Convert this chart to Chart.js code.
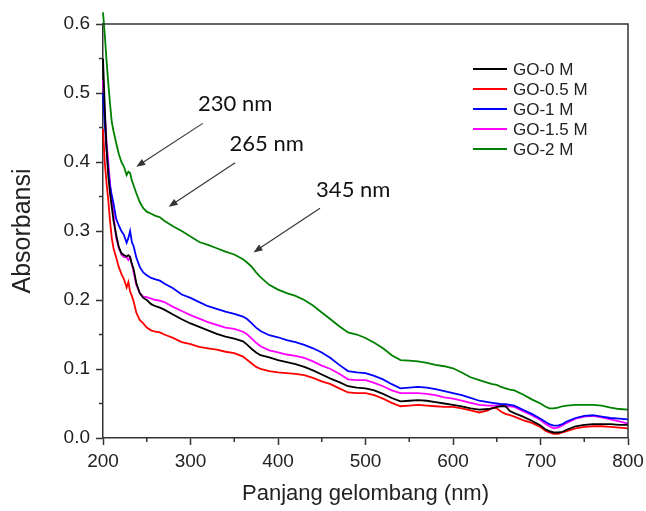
<!DOCTYPE html>
<html>
<head>
<meta charset="utf-8">
<script src="https://cdn.jsdelivr.net/npm/chart.js@4.4.1/dist/chart.umd.min.js"></script>
<style>
  html, body { margin: 0; padding: 0; background: #fff; }
  #wrap { width: 646px; height: 511px; }
</style>
</head>
<body>
<div id="wrap"><canvas id="uvChart"></canvas></div>
<script>
// UV-Vis absorbance spectra, wavelength in nm
const wavelength = [
  200, 202, 204, 206, 208, 210, 212, 215, 218, 221, 224, 227, 229, 231, 233, 235, 238, 242, 246, 250,
  255, 260, 265, 270, 280, 290, 300, 310, 320, 330, 340, 350, 360, 365, 370, 375, 380, 390, 400, 410,
  420, 430, 440, 450, 460, 470, 480, 490, 500, 510, 520, 530, 540, 550, 560, 570, 580, 590, 600, 610,
  620, 630, 640, 645, 650, 655, 660, 665, 670, 680, 690, 700, 705, 710, 715, 720, 725, 730, 740, 750,
  760, 770, 780, 790, 800
];

const go0 = [
  0.550, 0.480, 0.420, 0.380, 0.355, 0.335, 0.315, 0.295, 0.277, 0.268, 0.265, 0.263, 0.265, 0.262, 0.252, 0.245, 0.225, 0.210, 0.203, 0.200,
  0.194, 0.191, 0.189, 0.186, 0.179, 0.172, 0.166, 0.161, 0.156, 0.151, 0.147, 0.144, 0.140, 0.135, 0.129, 0.124, 0.120, 0.117, 0.113, 0.110,
  0.107, 0.103, 0.098, 0.092, 0.086, 0.081, 0.075, 0.073, 0.072, 0.069, 0.064, 0.058, 0.053, 0.054, 0.055, 0.054, 0.052, 0.050, 0.048, 0.046,
  0.043, 0.041, 0.042, 0.043, 0.045, 0.046, 0.046, 0.039, 0.036, 0.031, 0.025, 0.018, 0.013, 0.010, 0.008, 0.008, 0.009, 0.012, 0.017, 0.019,
  0.020, 0.020, 0.020, 0.019, 0.019
];

const go05 = [
  0.448, 0.400, 0.370, 0.345, 0.315, 0.290, 0.275, 0.262, 0.248, 0.238, 0.230, 0.218, 0.226, 0.212, 0.206, 0.198, 0.182, 0.171, 0.166, 0.160,
  0.156, 0.154, 0.153, 0.150, 0.145, 0.139, 0.136, 0.132, 0.130, 0.128, 0.125, 0.123, 0.118, 0.113, 0.108, 0.103, 0.100, 0.097, 0.095, 0.094,
  0.093, 0.091, 0.087, 0.082, 0.078, 0.072, 0.066, 0.065, 0.065, 0.062, 0.057, 0.051, 0.046, 0.047, 0.048, 0.047, 0.046, 0.045, 0.045, 0.043,
  0.040, 0.037, 0.040, 0.044, 0.043, 0.038, 0.035, 0.033, 0.031, 0.026, 0.022, 0.016, 0.011, 0.008, 0.006, 0.006, 0.008, 0.010, 0.014, 0.016,
  0.017, 0.017, 0.016, 0.015, 0.014
];

const go1 = [
  0.500, 0.455, 0.420, 0.390, 0.365, 0.352, 0.340, 0.318, 0.308, 0.300, 0.294, 0.283, 0.290, 0.300, 0.284, 0.278, 0.262, 0.248, 0.240, 0.236,
  0.232, 0.230, 0.228, 0.224, 0.217, 0.208, 0.203, 0.197, 0.191, 0.187, 0.183, 0.180, 0.176, 0.172, 0.166, 0.160, 0.155, 0.149, 0.146, 0.142,
  0.139, 0.135, 0.130, 0.124, 0.116, 0.106, 0.097, 0.095, 0.094, 0.090, 0.085, 0.078, 0.072, 0.073, 0.074, 0.073, 0.071, 0.068, 0.065, 0.062,
  0.058, 0.054, 0.052, 0.051, 0.050, 0.049, 0.049, 0.048, 0.047, 0.041, 0.035, 0.028, 0.024, 0.020, 0.018, 0.018, 0.020, 0.024, 0.029, 0.032,
  0.033, 0.031, 0.029, 0.028, 0.027
];

const go15 = [
  0.519, 0.470, 0.430, 0.400, 0.370, 0.345, 0.325, 0.290, 0.276, 0.266, 0.262, 0.262, 0.258, 0.262, 0.252, 0.240, 0.222, 0.210, 0.205, 0.204,
  0.202, 0.200, 0.199, 0.197, 0.190, 0.184, 0.178, 0.173, 0.168, 0.164, 0.160, 0.158, 0.154, 0.150, 0.144, 0.138, 0.133, 0.127, 0.124, 0.121,
  0.119, 0.116, 0.111, 0.105, 0.100, 0.093, 0.085, 0.084, 0.084, 0.080, 0.075, 0.069, 0.065, 0.065, 0.065, 0.064, 0.062, 0.059, 0.057, 0.054,
  0.051, 0.048, 0.047, 0.047, 0.047, 0.047, 0.046, 0.046, 0.045, 0.039, 0.033, 0.026, 0.021, 0.017, 0.014, 0.015, 0.018, 0.022, 0.028, 0.031,
  0.032, 0.030, 0.027, 0.024, 0.021
];

const go2 = [
  0.617, 0.585, 0.548, 0.515, 0.485, 0.458, 0.445, 0.428, 0.412, 0.400, 0.393, 0.381, 0.386, 0.384, 0.373, 0.366, 0.355, 0.342, 0.333, 0.328,
  0.325, 0.322, 0.320, 0.315, 0.307, 0.300, 0.292, 0.284, 0.280, 0.275, 0.270, 0.266, 0.259, 0.254, 0.248, 0.240, 0.233, 0.222, 0.215, 0.210,
  0.206, 0.200, 0.192, 0.182, 0.172, 0.162, 0.153, 0.150, 0.145, 0.138, 0.130, 0.120, 0.113, 0.112, 0.111, 0.109, 0.106, 0.104, 0.101, 0.095,
  0.088, 0.084, 0.080, 0.078, 0.077, 0.074, 0.072, 0.070, 0.069, 0.063, 0.056, 0.050, 0.046, 0.043, 0.043, 0.044, 0.046, 0.047, 0.048, 0.048,
  0.048, 0.047, 0.044, 0.042, 0.041
];

const seriesLabels = ["GO-0 M", "GO-0.5 M", "GO-1 M", "GO-1.5 M", "GO-2 M"];
const seriesColors = ["#000000", "#ff0000", "#0000ff", "#ff00ff", "#008000"];
const seriesValues = [go0, go05, go1, go15, go2];

// peak callouts: label position and arrow, in data units (nm, absorbance)
const peakNotes = [
  { text: "230 nm", tx: 351, ty: 0.484, x0: 314, y0: 0.456, x1: 238, y1: 0.393 },
  { text: "265 nm", tx: 387, ty: 0.426, x0: 351, y0: 0.399, x1: 275, y1: 0.335 },
  { text: "345 nm", tx: 486, ty: 0.359, x0: 448, y0: 0.333, x1: 372, y1: 0.269 },
];

const axisColor = "#333333";
const tickFont = { family: "'Liberation Sans', Arial, sans-serif", size: 19 };

// box frame + minor ticks on the bottom and left axes
const framePlugin = {
  id: "frame",
  afterDraw(chart) {
    const { ctx, chartArea: { top, bottom, left, right }, scales: { x, y } } = chart;
    ctx.save();
    ctx.strokeStyle = axisColor;
    ctx.lineWidth = 1.5;
    ctx.beginPath();
    ctx.moveTo(left, top);
    ctx.lineTo(right, top);
    ctx.lineTo(right, bottom);
    ctx.stroke();

    ctx.beginPath();
    for (let v = 250; v < 800; v += 100) {
      const px = x.getPixelForValue(v);
      ctx.moveTo(px, bottom);
      ctx.lineTo(px, bottom + 4);
    }
    for (let v = 0.05; v < 0.6; v += 0.1) {
      const py = y.getPixelForValue(v);
      ctx.moveTo(left, py);
      ctx.lineTo(left - 4, py);
    }
    ctx.stroke();
    ctx.restore();
  },
};

// legend drawn inside the plot, upper right
const insideLegend = {
  id: "insideLegend",
  afterDraw(chart) {
    const { ctx, chartArea: { right, top } } = chart;
    const x0 = right - 155;
    const y0 = top + 45;
    ctx.save();
    ctx.font = "17px 'Liberation Sans', Arial, sans-serif";
    ctx.textBaseline = "middle";
    ctx.fillStyle = "#222";
    chart.data.datasets.forEach((ds, i) => {
      const yy = y0 + i * 20;
      ctx.strokeStyle = ds.borderColor;
      ctx.lineWidth = 2;
      ctx.beginPath();
      ctx.moveTo(x0, yy);
      ctx.lineTo(x0 + 34, yy);
      ctx.stroke();
      ctx.fillText(ds.label, x0 + 40, yy + 1);
    });
    ctx.restore();
  },
};

// callout labels with arrows
const peakArrows = {
  id: "peakArrows",
  afterDraw(chart) {
    const { ctx, scales: { x, y } } = chart;
    ctx.save();
    ctx.font = "22px Lato, 'Open Sans', sans-serif";
    ctx.textAlign = "center";
    ctx.textBaseline = "middle";
    peakNotes.forEach((n) => {
      ctx.fillStyle = "#111";
      ctx.fillText(n.text, x.getPixelForValue(n.tx), y.getPixelForValue(n.ty));

      const ax = x.getPixelForValue(n.x0), ay = y.getPixelForValue(n.y0);
      const bx = x.getPixelForValue(n.x1), by = y.getPixelForValue(n.y1);
      const ang = Math.atan2(by - ay, bx - ax);
      ctx.strokeStyle = "#333";
      ctx.lineWidth = 1.1;
      ctx.beginPath();
      ctx.moveTo(ax, ay);
      ctx.lineTo(bx - 6 * Math.cos(ang), by - 6 * Math.sin(ang));
      ctx.stroke();
      ctx.fillStyle = "#333";
      ctx.beginPath();
      ctx.moveTo(bx, by);
      ctx.lineTo(bx - 9 * Math.cos(ang) + 3.5 * Math.sin(ang), by - 9 * Math.sin(ang) - 3.5 * Math.cos(ang));
      ctx.lineTo(bx - 9 * Math.cos(ang) - 3.5 * Math.sin(ang), by - 9 * Math.sin(ang) + 3.5 * Math.cos(ang));
      ctx.closePath();
      ctx.fill();
    });
    ctx.restore();
  },
};

const datasets = seriesLabels.map((label, i) => ({
  label: label,
  data: wavelength.map((w, k) => ({ x: w, y: seriesValues[i][k] })),
  borderColor: seriesColors[i],
  borderWidth: 1.8,
  pointRadius: 0,
  tension: 0,
  fill: false,
  clip: false,
}));

new Chart(document.getElementById("uvChart"), {
  type: "line",
  data: { datasets: datasets },
  options: {
    responsive: true,
    maintainAspectRatio: false,
    animation: false,
    layout: { padding: { left: 0, right: 18, top: 24, bottom: 0 } },
    scales: {
      x: {
        type: "linear",
        min: 200,
        max: 800,
        afterFit: (scale) => {
          scale.height = 73;
          scale.paddingLeft = 0;
          scale.paddingRight = 0;
        },
        ticks: { stepSize: 100, font: tickFont, color: "#222", padding: 5, maxRotation: 0 },
        grid: { drawOnChartArea: false, tickLength: 7, tickColor: axisColor, tickWidth: 1.5 },
        border: { display: true, color: axisColor, width: 1.5 },
        title: {
          display: true,
          text: "Panjang gelombang (nm)",
          font: { family: "'Liberation Sans', Arial, sans-serif", size: 22 },
          color: "#222",
          padding: { top: 11 },
        },
      },
      y: {
        min: 0,
        max: 0.6,
        afterFit: (scale) => { scale.width = 103; },
        ticks: {
          stepSize: 0.1,
          font: tickFont,
          color: "#222",
          padding: 6,
          callback: (v) => v.toFixed(1),
        },
        grid: { drawOnChartArea: false, tickLength: 7, tickColor: axisColor, tickWidth: 1.5 },
        border: { display: true, color: axisColor, width: 1.5 },
        title: {
          display: true,
          text: "Absorbansi",
          font: { family: "'Liberation Sans', Arial, sans-serif", size: 25 },
          color: "#222",
          padding: { top: 8, bottom: 4 },
        },
      },
    },
    plugins: {
      legend: { display: false },
      tooltip: { enabled: false },
    },
  },
  plugins: [framePlugin, insideLegend, peakArrows],
});
</script>
</body>
</html>
